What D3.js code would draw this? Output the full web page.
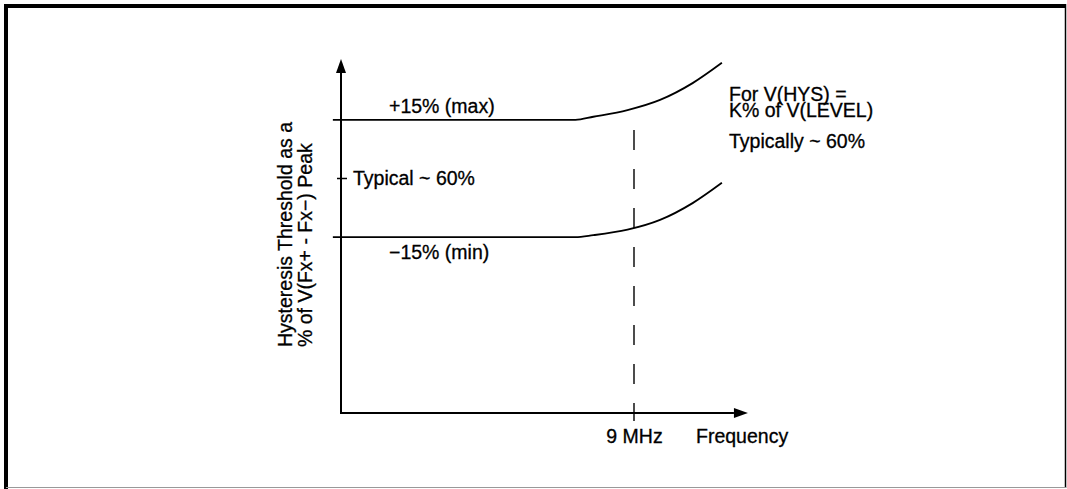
<!DOCTYPE html>
<meta charset="utf-8">
<html>
    <head>
        <style>
        body { margin: 0; background: #fff; }
        svg { display: block; }
        text {
            font-family: "Liberation Sans", Arial, Helvetica, sans-serif;
            font-size: 19.5px;
            fill: #000;
            stroke: #000;
            stroke-width: 0.3px;
        }
        .axis-line { stroke: #000; stroke-width: 2px; fill: none; }
        .level { fill: none; stroke: #000; stroke-width: 1.8px; }
        .marker { stroke: #000; stroke-width: 1.4px; stroke-dasharray: 20 19; }
        </style>
    </head>
    <body>

<svg width="1067" height="489"></svg>
<script src="https://d3js.org/d3.v7.min.js"></script>
<script>

var freqMHz  = [-0.25, 7.2, 7.75, 8.8, 9.8, 10.8, 11.7];
// hysteresis threshold, % of peak
var maxPct   = [75, 75, 75.8, 77.5, 80.1, 84.4, 89.6];
var minPct   = [45, 45, 45.5, 46.9, 49.4, 53.7, 58.9];
var typicalPct = 60;
var markerMHz  = 9;
var xAxisEnd = 12.5, yAxisEnd = 90.6, dashTop = 72.4;

var maxLabel = "+15% (max)",
    minLabel = "\u221215% (min)",
    typicalLabel = "Typical ~ 60%",
    xTitle = "Frequency",
    yTitle = ["Hysteresis Threshold as a", "% of V(Fx+ - Fx\u2212) Peak"],
    note = ["For V(HYS) =", "K% of V(LEVEL)", "Typically ~ 60%"];

var svg = d3.select("svg");

// page frame (scan border: heavy top/left, thin right/bottom)
svg.append("line").attr("x1", 4).attr("x2", 1066).attr("y1", 6).attr("y2", 6)
    .attr("stroke", "#000").attr("stroke-width", 4);
svg.append("line").attr("x1", 6).attr("x2", 6).attr("y1", 4).attr("y2", 489)
    .attr("stroke", "#000").attr("stroke-width", 4);
svg.append("line").attr("x1", 1065.5).attr("x2", 1065.5).attr("y1", 4).attr("y2", 488)
    .attr("stroke", "#000").attr("stroke-width", 1.5);
svg.append("line").attr("x1", 6).attr("x2", 1066).attr("y1", 487.5).attr("y2", 487.5)
    .attr("stroke", "#999").attr("stroke-width", 1);

var x = d3.scaleLinear().domain([0, markerMHz]).range([341, 634]),
    y = d3.scaleLinear().domain([0, typicalPct]).range([413, 178.5]);

var arrowLen = 14, arrowHalf = 5;

// x axis with arrow
svg.append("line").attr("class", "axis-line")
    .attr("x1", x(0)).attr("x2", x(xAxisEnd) - arrowLen)
    .attr("y1", y(0)).attr("y2", y(0));
svg.append("path")
    .attr("d", "M" + x(xAxisEnd) + "," + y(0) +
               "L" + (x(xAxisEnd) - arrowLen) + "," + (y(0) - arrowHalf) +
               "L" + (x(xAxisEnd) - arrowLen) + "," + (y(0) + arrowHalf) + "Z");

// y axis with arrow
svg.append("line").attr("class", "axis-line")
    .attr("x1", x(0)).attr("x2", x(0))
    .attr("y1", y(0) + 1).attr("y2", y(yAxisEnd) + arrowLen);
svg.append("path")
    .attr("d", "M" + x(0) + "," + y(yAxisEnd) +
               "L" + (x(0) - arrowHalf) + "," + (y(yAxisEnd) + arrowLen) +
               "L" + (x(0) + arrowHalf) + "," + (y(yAxisEnd) + arrowLen) + "Z");

// tick label at 9 MHz via d3 axis
var xAxis = d3.axisBottom(x)
    .tickValues([markerMHz])
    .tickSize(0)
    .tickPadding(16)
    .tickFormat(function (d) { return d + " MHz"; });

var gx = svg.append("g")
    .attr("transform", "translate(0," + y(0) + ")")
    .call(xAxis);
gx.select(".domain").remove();
gx.selectAll("text").attr("fill", null);
gx.attr("font-family", null).attr("font-size", null);

svg.append("text")
    .attr("x", x(markerMHz) + 62)
    .attr("y", y(0) + 30)
    .text(xTitle);

// 9 MHz marker
svg.append("line").attr("class", "marker")
    .attr("x1", x(markerMHz)).attr("x2", x(markerMHz))
    .attr("y1", y(dashTop)).attr("y2", y(0) + 8);

// limit curves
var line = d3.line()
    .x(function (d) { return x(d[0]); })
    .y(function (d) { return y(d[1]); })
    .curve(d3.curveMonotoneX);

svg.append("path").attr("class", "level")
    .datum(d3.zip(freqMHz, maxPct))
    .attr("d", line);
svg.append("path").attr("class", "level")
    .datum(d3.zip(freqMHz, minPct))
    .attr("d", line);

// typical tick
svg.append("line").attr("stroke", "#000").attr("stroke-width", 1.5)
    .attr("x1", x(0) - 4).attr("x2", x(0) + 6)
    .attr("y1", y(typicalPct)).attr("y2", y(typicalPct));

svg.append("text")
    .attr("x", x(0) + 12)
    .attr("y", y(typicalPct))
    .attr("dy", "0.35em")
    .text(typicalLabel);

svg.append("text")
    .attr("x", x(0) + 48)
    .attr("y", y(maxPct[0]) - 7)
    .text(maxLabel);

svg.append("text")
    .attr("x", x(0) + 48)
    .attr("y", y(minPct[0]) + 22)
    .text(minLabel);

// y title, two rotated lines aligned at their start
var yt = svg.append("text")
    .attr("transform", "translate(292,347) rotate(-90)");
yt.selectAll("tspan")
    .data(yTitle)
    .enter().append("tspan")
    .attr("x", 0)
    .attr("y", function (d, i) { return i * 20; })
    .text(function (d) { return d; });

// note at right
var nt = svg.append("text");
nt.selectAll("tspan")
    .data(note)
    .enter().append("tspan")
    .attr("x", 729)
    .attr("y", function (d, i) { return [101, 117, 148][i]; })
    .text(function (d) { return d; });

</script>
    </body>
</html>
